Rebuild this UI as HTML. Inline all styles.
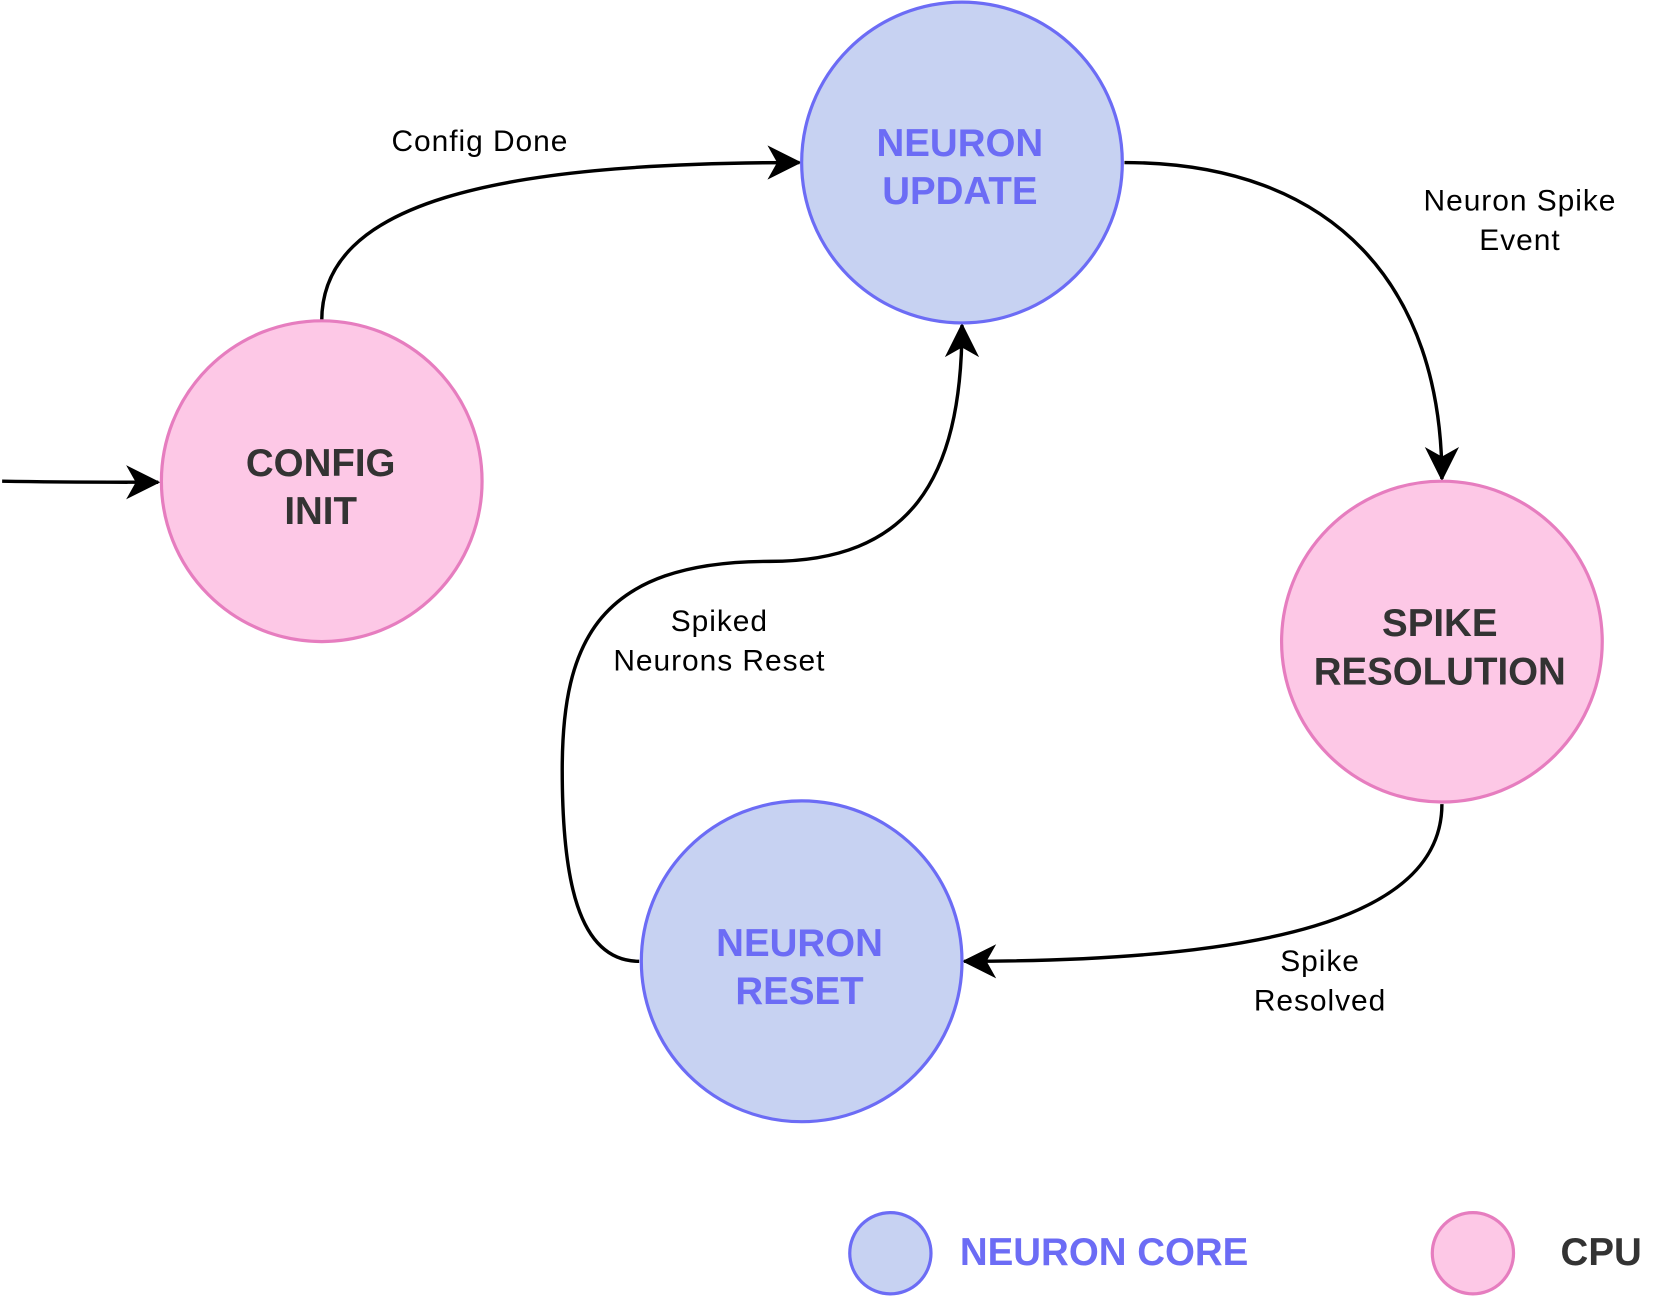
<!DOCTYPE html>
<html><head><meta charset="utf-8"><style>
html,body{margin:0;padding:0;background:#fff;width:1676px;height:1296px;overflow:hidden}
svg{display:block}
.n{font-family:"Liberation Sans",sans-serif;font-weight:bold;font-size:36px;text-anchor:middle}
.l{font-family:"Liberation Sans",sans-serif;font-size:28px;letter-spacing:0.9px;text-anchor:middle;fill:#000}
</style></head><body>
<svg width="1676" height="1296" viewBox="0 0 1568 1212" preserveAspectRatio="none">
<defs>
<marker id="b" viewBox="-2 -2 36 36" refX="30" refY="16" markerWidth="36" markerHeight="36" markerUnits="userSpaceOnUse" orient="auto">
<path d="M0,0 L32,16 L0,32 L9,16 Z" fill="#000"/>
</marker>
</defs>
<g fill="none" stroke="#000" stroke-width="3.2">
<path d="M2,450 C60,451 100,451 148,451" marker-end="url(#b)"/>
<path d="M301,300 C301,190 460,152 748,152" marker-end="url(#b)"/>
<path d="M1052,152 C1250,152 1349,270 1349,448" marker-end="url(#b)"/>
<path d="M1349,752 C1349,860 1180,899 902,899" marker-end="url(#b)"/>
<path d="M598,899 C540,899 526,820 526,720 C526,600 560,525 720,525 C850,525 900,450 900,304" marker-end="url(#b)"/>
</g>
<g stroke-width="3">
<circle cx="900" cy="152" r="150" fill="#C7D2F2" stroke="#6C6CF5"/>
<circle cx="301" cy="450" r="150" fill="#FDC8E6" stroke="#E67DBF"/>
<circle cx="1349" cy="600" r="150" fill="#FDC8E6" stroke="#E67DBF"/>
<circle cx="750" cy="899" r="150" fill="#C7D2F2" stroke="#6C6CF5"/>
<circle cx="833" cy="1172" r="38" fill="#C7D2F2" stroke="#6C6CF5"/>
<circle cx="1378" cy="1172" r="38" fill="#FDC8E6" stroke="#E67DBF"/>
</g>
<text class="n" x="898" y="146" fill="#6C6CF5">NEURON</text>
<text class="n" x="898" y="191" fill="#6C6CF5">UPDATE</text>
<text class="n" x="300" y="445" fill="#333">CONFIG</text>
<text class="n" x="300" y="490" fill="#333">INIT</text>
<text class="n" x="1347" y="595" fill="#333">SPIKE</text>
<text class="n" x="1347" y="640" fill="#333">RESOLUTION</text>
<text class="n" x="748" y="894" fill="#6C6CF5">NEURON</text>
<text class="n" x="748" y="939" fill="#6C6CF5">RESET</text>
<text class="n" x="898" y="1183" fill="#6C6CF5" style="text-anchor:start">NEURON CORE</text>
<text class="n" x="1460" y="1183" fill="#333" style="text-anchor:start">CPU</text>
<text class="l" x="449" y="141">Config Done</text>
<text class="l" x="1422" y="197">Neuron Spike</text>
<text class="l" x="1422" y="234">Event</text>
<text class="l" x="673" y="590">Spiked</text>
<text class="l" x="673" y="627">Neurons Reset</text>
<text class="l" x="1235" y="908">Spike</text>
<text class="l" x="1235" y="945">Resolved</text>
</svg>
</body></html>
